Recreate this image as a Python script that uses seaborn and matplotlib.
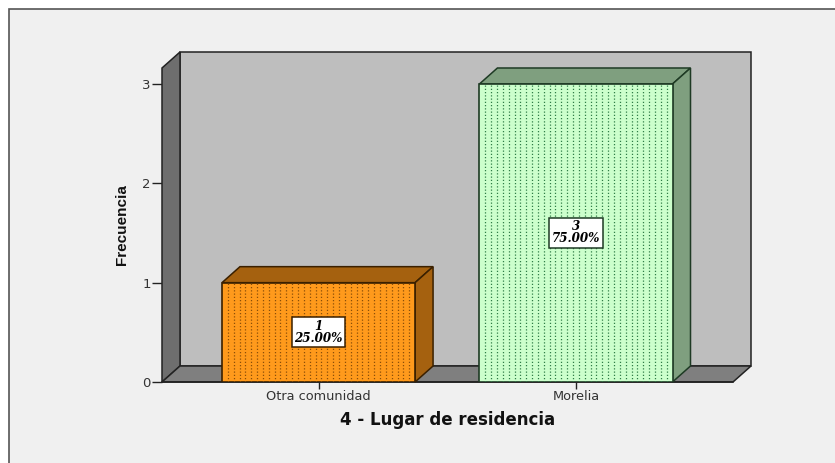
import numpy as np
import pandas as pd
import seaborn as sns
import matplotlib
matplotlib.use("Agg")
import matplotlib.pyplot as plt
from matplotlib.patches import Polygon, Rectangle
from matplotlib.transforms import ScaledTranslation

categories = ["Otra comunidad", "Morelia"]
counts = [1, 3]
percents = ["25.00%", "75.00%"]
front_colors = ["#FF9A1C", "#CCFFCC"]
shade_colors = ["#A5610F", "#7F9F7F"]
dot_colors = ["#8A4E08", "#2E7D46"]
edge_colors = ["#3A2000", "#1E3A24"]
y_ticks = [0, 1, 2, 3]
x_title = "4 - Lugar de residencia"
y_title = "Frecuencia"

W, H = 835, 463
DX, DY = 18, 16

sns.set_theme(style="white")
fig = plt.figure(figsize=(W / 100, H / 100), dpi=100, facecolor="white")
fig.add_artist(Rectangle((9 / W, -4 / H), 840 / W, (H - 9 + 4) / H, transform=fig.transFigure,
                         fc="#F0F0F0", ec="#555555", lw=1.2, zorder=-5))

ax = fig.add_axes([162 / W, 1 - 382 / H, 571 / W, 314 / H])
ax.patch.set_alpha(0)
df = pd.DataFrame({"cat": categories, "n": counts})
sns.barplot(data=df, x="cat", y="n", hue="cat", palette=front_colors, legend=False,
            width=0.75, ax=ax, saturation=1, linewidth=1.2, zorder=5)
ax.set_xlim(-0.608, 1.61)
ax.set_ylim(0, 3.161)
for s in ax.spines.values():
    s.set_visible(False)

off = ax.transData + ScaledTranslation(DX / 100, DY / 100, fig.dpi_scale_trans)
inv = ax.transData.inverted()
x0, x1 = ax.get_xlim()
y1 = ax.get_ylim()[1]
wall_edge = "#222222"
bars = list(ax.patches[:2])
# back wall, side wall, floor
ax.add_patch(Polygon([(x0, 0), (x1, 0), (x1, y1), (x0, y1)], transform=off, fc="#BEBEBE",
                     ec=wall_edge, lw=1.1, zorder=1, clip_on=False))
side_pts = np.vstack([ax.transData.transform([(x0, 0), (x0, y1)]), off.transform([(x0, y1), (x0, 0)])])
ax.add_patch(Polygon(inv.transform(side_pts), fc="#6E6E6E", ec=wall_edge, lw=1.1, zorder=2, clip_on=False))
floor_pts = np.vstack([ax.transData.transform([(x0, 0), (x1, 0)]), off.transform([(x1, 0), (x0, 0)])])
ax.add_patch(Polygon(inv.transform(floor_pts), fc="#7F7F7F", ec=wall_edge, lw=1.1, zorder=2, clip_on=False))

for i, bar in enumerate(bars):
    l, w, h = bar.get_x(), bar.get_width(), bar.get_height()
    r = l + w
    bar.set_edgecolor(edge_colors[i])
    front = ax.transData.transform([(l, h), (r, h), (r, 0)])
    back = off.transform([(r, 0), (r, h), (l, h)])
    top = inv.transform([front[0], front[1], back[1], back[2]])
    side = inv.transform([front[1], front[2], back[0], back[1]])
    ax.add_patch(Polygon(top, fc=shade_colors[i], ec=edge_colors[i], lw=1.1, zorder=4, clip_on=False))
    ax.add_patch(Polygon(side, fc=shade_colors[i], ec=edge_colors[i], lw=1.1, zorder=4, clip_on=False))
    # fine dotted fill of the front face
    n_cols = int(round(w * 257.5 / 6.0))
    xs = np.linspace(l, r, n_cols + 2)[1:-1]
    ax.vlines(xs, 0, h, colors=dot_colors[i], linewidth=0.9, linestyles=(0, (1, 1.6)), zorder=6)
    ax.text(l + w / 2, h / 2, f"{counts[i]}\n{percents[i]}",
            ha="center", va="center", fontsize=8.6, family="DejaVu Serif", weight="bold", style="italic",
            linespacing=0.9, color="black", zorder=8,
            bbox=dict(boxstyle="square,pad=0.22", fc="white", ec=edge_colors[i], lw=1.1))

ax.set_yticks(y_ticks)
ax.set_xticks(range(len(categories)))
ax.set_xticklabels(categories)
ax.tick_params(axis="y", length=7, width=1, color="#222222", labelsize=9.5, labelcolor="#333333", pad=1, left=True)
ax.tick_params(axis="x", length=5, width=1, color="#222222", labelsize=9.3, labelcolor="#333333", pad=1, bottom=True)
ax.set_xlabel("")
ax.set_ylabel("")
fig.text(447.5 / W, 1 - 420 / H, x_title, ha="center", va="center", fontsize=12, weight="bold",
         family="DejaVu Sans", color="#111111")
fig.text(122 / W, 1 - 225 / H, y_title, ha="center", va="center", rotation=90, fontsize=11, weight="bold",
         family="Liberation Sans", color="#111111")
ax.plot([x0, x1], [0, 0], color=wall_edge, lw=1.2, zorder=3, clip_on=False)
fig.savefig("out.png", dpi=100)
